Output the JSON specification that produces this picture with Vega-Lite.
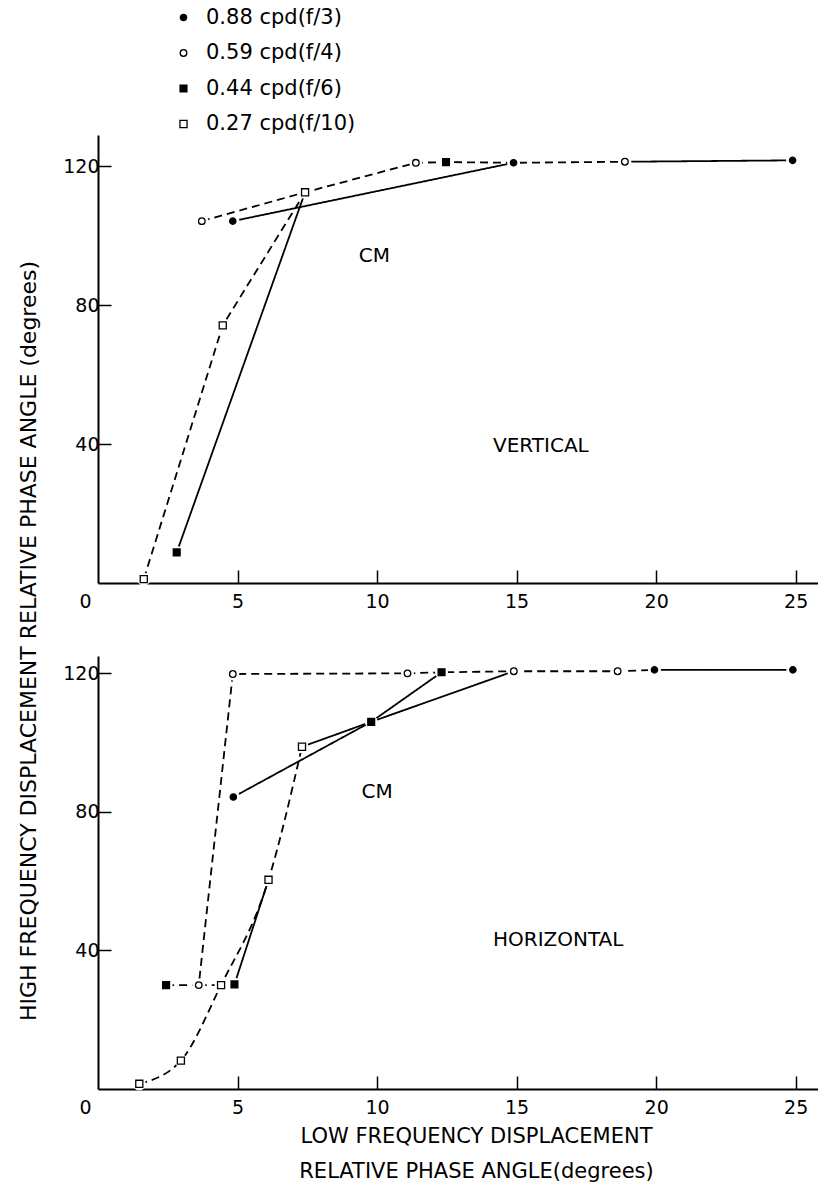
{
  "$schema": "https://vega.github.io/schema/vega-lite/v6.json",
  "padding": {"left": 17, "top": 7, "right": 0, "bottom": 5},
  "background": "white",
  "config": {
    "font": "DejaVu Sans",
    "view": {"stroke": null},
    "axis": {
      "domainColor": "black", "domainWidth": 2, "tickColor": "black", "tickWidth": 1.5,
      "tickSize": -13, "labelColor": "black", "labelFontSize": 19, "labelFont": "DejaVu Sans",
      "grid": false, "titleColor": "black", "titleFontWeight": "normal", "titleFont": "DejaVu Sans"
    },
    "axisX": {"labelPadding": 22, "labelFlush": false},
    "axisY": {"labelPadding": 12},
    "legend": {
      "orient": "none", "legendX": 75, "legendY": -128, "padding": 0,
      "labelFontSize": 21, "labelFont": "DejaVu Sans", "labelColor": "black",
      "symbolStrokeColor": "black", "symbolStrokeWidth": 1.3, "rowPadding": 13.5, "labelOffset": 12
    }
  },
  "title": {
    "text": "HIGH FREQUENCY DISPLACEMENT RELATIVE PHASE ANGLE (degrees)",
    "orient": "left", "anchor": "middle", "fontSize": 22, "fontWeight": "normal",
    "color": "black", "font": "DejaVu Sans", "offset": 22, "dx": -47
  },
  "datasets": {
    "vpts": [
      {"freq": "0.88 cpd(f/3)", "x": 4.83, "y": 104.2},
      {"freq": "0.88 cpd(f/3)", "x": 14.89, "y": 121.0},
      {"freq": "0.88 cpd(f/3)", "x": 24.89, "y": 121.7},
      {"freq": "0.59 cpd(f/4)", "x": 3.72, "y": 104.2},
      {"freq": "0.59 cpd(f/4)", "x": 11.39, "y": 121.0},
      {"freq": "0.59 cpd(f/4)", "x": 18.88, "y": 121.3},
      {"freq": "0.44 cpd(f/6)", "x": 2.82, "y": 8.8},
      {"freq": "0.44 cpd(f/6)", "x": 12.47, "y": 121.2},
      {"freq": "0.27 cpd(f/10)", "x": 1.64, "y": 1.1},
      {"freq": "0.27 cpd(f/10)", "x": 4.47, "y": 74.2},
      {"freq": "0.27 cpd(f/10)", "x": 7.42, "y": 112.5}
    ],
    "vlines": [
      {"seg": "d1", "style": "dashed", "curve": false, "ord": 1, "x": 1.64, "y": 1.1},
      {"seg": "d1", "style": "dashed", "curve": false, "ord": 2, "x": 4.47, "y": 74.2},
      {"seg": "d1", "style": "dashed", "curve": false, "ord": 3, "x": 7.42, "y": 112.5},
      {"seg": "d2", "style": "dashed", "curve": false, "ord": 1, "x": 3.72, "y": 104.2},
      {"seg": "d2", "style": "dashed", "curve": false, "ord": 2, "x": 7.42, "y": 112.5},
      {"seg": "d2", "style": "dashed", "curve": false, "ord": 3, "x": 11.39, "y": 121.0},
      {"seg": "d2", "style": "dashed", "curve": false, "ord": 4, "x": 12.47, "y": 121.2},
      {"seg": "d2", "style": "dashed", "curve": false, "ord": 5, "x": 14.89, "y": 121.0},
      {"seg": "d2", "style": "dashed", "curve": false, "ord": 6, "x": 18.88, "y": 121.3},
      {"seg": "s1", "style": "solid", "curve": false, "ord": 1, "x": 2.82, "y": 8.8},
      {"seg": "s1", "style": "solid", "curve": false, "ord": 2, "x": 7.42, "y": 112.5},
      {"seg": "s2", "style": "solid", "curve": false, "ord": 1, "x": 4.83, "y": 104.2},
      {"seg": "s2", "style": "solid", "curve": false, "ord": 2, "x": 14.89, "y": 121.0},
      {"seg": "s3", "style": "solid", "curve": false, "ord": 1, "x": 18.88, "y": 121.3},
      {"seg": "s3", "style": "solid", "curve": false, "ord": 2, "x": 24.89, "y": 121.7}
    ],
    "vtext": [
      {"x": 9.9, "y": 94.3, "label": "CM"},
      {"x": 15.87, "y": 39.5, "label": "VERTICAL"}
    ],
    "hpts": [
      {"freq": "0.88 cpd(f/3)", "x": 4.85, "y": 84.3},
      {"freq": "0.88 cpd(f/3)", "x": 19.94, "y": 121.0},
      {"freq": "0.88 cpd(f/3)", "x": 24.9, "y": 121.0},
      {"freq": "0.59 cpd(f/4)", "x": 3.61, "y": 30.0},
      {"freq": "0.59 cpd(f/4)", "x": 4.83, "y": 119.8},
      {"freq": "0.59 cpd(f/4)", "x": 11.09, "y": 120.0},
      {"freq": "0.59 cpd(f/4)", "x": 14.9, "y": 120.6},
      {"freq": "0.59 cpd(f/4)", "x": 18.62, "y": 120.6},
      {"freq": "0.44 cpd(f/6)", "x": 2.44, "y": 30.0},
      {"freq": "0.44 cpd(f/6)", "x": 4.89, "y": 30.2},
      {"freq": "0.44 cpd(f/6)", "x": 9.79, "y": 106.0},
      {"freq": "0.44 cpd(f/6)", "x": 12.31, "y": 120.3},
      {"freq": "0.27 cpd(f/10)", "x": 1.48, "y": 1.5},
      {"freq": "0.27 cpd(f/10)", "x": 2.97, "y": 8.2},
      {"freq": "0.27 cpd(f/10)", "x": 4.41, "y": 30.0},
      {"freq": "0.27 cpd(f/10)", "x": 6.11, "y": 60.4},
      {"freq": "0.27 cpd(f/10)", "x": 7.31, "y": 98.8}
    ],
    "hlines": [
      {"seg": "d1", "style": "dashed", "curve": false, "ord": 1, "x": 2.44, "y": 30.0},
      {"seg": "d1", "style": "dashed", "curve": false, "ord": 2, "x": 3.61, "y": 30.0},
      {"seg": "d1", "style": "dashed", "curve": false, "ord": 3, "x": 4.83, "y": 119.8},
      {"seg": "d1", "style": "dashed", "curve": false, "ord": 4, "x": 11.09, "y": 120.0},
      {"seg": "d1", "style": "dashed", "curve": false, "ord": 5, "x": 12.31, "y": 120.3},
      {"seg": "d1", "style": "dashed", "curve": false, "ord": 6, "x": 14.9, "y": 120.6},
      {"seg": "d1", "style": "dashed", "curve": false, "ord": 7, "x": 18.62, "y": 120.6},
      {"seg": "d1", "style": "dashed", "curve": false, "ord": 8, "x": 19.94, "y": 121.0},
      {"seg": "d2", "style": "dashed", "curve": true, "ord": 1, "x": 1.48, "y": 1.5},
      {"seg": "d2", "style": "dashed", "curve": true, "ord": 2, "x": 2.97, "y": 8.2},
      {"seg": "d2", "style": "dashed", "curve": true, "ord": 3, "x": 4.41, "y": 30.0},
      {"seg": "d2", "style": "dashed", "curve": true, "ord": 4, "x": 6.11, "y": 60.4},
      {"seg": "d2", "style": "dashed", "curve": true, "ord": 5, "x": 7.31, "y": 98.8},
      {"seg": "d3", "style": "dashed", "curve": false, "ord": 1, "x": 3.61, "y": 30.0},
      {"seg": "d3", "style": "dashed", "curve": false, "ord": 2, "x": 4.41, "y": 30.0},
      {"seg": "s1", "style": "solid", "curve": false, "ord": 1, "x": 4.89, "y": 30.2},
      {"seg": "s1", "style": "solid", "curve": false, "ord": 2, "x": 6.11, "y": 60.4},
      {"seg": "s2", "style": "solid", "curve": false, "ord": 1, "x": 4.85, "y": 84.3},
      {"seg": "s2", "style": "solid", "curve": false, "ord": 2, "x": 9.79, "y": 106.0},
      {"seg": "s2", "style": "solid", "curve": false, "ord": 3, "x": 14.9, "y": 120.6},
      {"seg": "s3", "style": "solid", "curve": false, "ord": 1, "x": 7.31, "y": 98.8},
      {"seg": "s3", "style": "solid", "curve": false, "ord": 2, "x": 9.79, "y": 106.0},
      {"seg": "s3", "style": "solid", "curve": false, "ord": 3, "x": 12.31, "y": 120.3},
      {"seg": "s4", "style": "solid", "curve": false, "ord": 1, "x": 19.94, "y": 121.0},
      {"seg": "s4", "style": "solid", "curve": false, "ord": 2, "x": 24.9, "y": 121.0}
    ],
    "htext": [
      {"x": 10.0, "y": 85.8, "label": "CM"},
      {"x": 16.49, "y": 42.9, "label": "HORIZONTAL"}
    ]
  },
  "spacing": 45,
  "vconcat": [
    {
      "width": 720,
      "height": 448,
      "encoding": {
        "x": {"field": "x", "type": "quantitative", "scale": {"domain": [0, 25.8], "nice": false, "zero": false},
          "axis": {"title": null, "values": [0, 5, 10, 15, 20, 25],
            "labelOffset": {"condition": {"test": "datum.value === 0", "value": -13}, "value": 0},
            "tickOpacity": {"condition": {"test": "datum.value === 0", "value": 0}, "value": 1}}},
        "y": {"field": "y", "type": "quantitative", "scale": {"domain": [0, 129], "nice": false, "zero": false},
          "axis": {"title": null, "values": [40, 80, 120]}}
      },
      "layer": [
        {
          "data": {"name": "vlines"},
          "transform": [{"filter": "!datum.curve"}],
          "mark": {"type": "line", "color": "black", "strokeWidth": 1.8},
          "encoding": {
            "detail": {"field": "seg"},
            "order": {"field": "ord", "type": "quantitative"},
            "strokeDash": {"field": "style", "type": "nominal", "scale": {"domain": ["solid", "dashed"], "range": [[1, 0], [8, 5]]}, "legend": null}
          }
        },
        {
          "data": {"name": "vpts"},
          "mark": {"type": "point", "filled": true, "color": "white", "size": 170, "opacity": 1}
        },
        {
          "data": {"name": "vpts"},
          "mark": {"type": "point", "strokeWidth": 1.3, "opacity": 1, "fillOpacity": 1},
          "encoding": {
            "shape": {"field": "freq", "type": "nominal", "scale": {"domain": ["0.88 cpd(f/3)", "0.59 cpd(f/4)", "0.44 cpd(f/6)", "0.27 cpd(f/10)"], "range": ["circle", "circle", "square", "square"]}, "legend": {"title": null}},
            "fill": {"field": "freq", "type": "nominal", "scale": {"domain": ["0.88 cpd(f/3)", "0.59 cpd(f/4)", "0.44 cpd(f/6)", "0.27 cpd(f/10)"], "range": ["black", "white", "black", "white"]}, "legend": {"title": null}},
            "stroke": {"field": "freq", "type": "nominal", "scale": {"domain": ["0.88 cpd(f/3)", "0.59 cpd(f/4)", "0.44 cpd(f/6)", "0.27 cpd(f/10)"], "range": ["black", "black", "black", "black"]}, "legend": {"title": null}},
            "size": {"field": "freq", "type": "nominal", "scale": {"domain": ["0.88 cpd(f/3)", "0.59 cpd(f/4)", "0.44 cpd(f/6)", "0.27 cpd(f/10)"], "range": [40, 50, 45, 95]}, "legend": {"title": null}}
          }
        },
        {
          "data": {"name": "vtext"},
          "mark": {"type": "text", "fontSize": 20, "font": "DejaVu Sans", "color": "black", "align": "center", "baseline": "middle"},
          "encoding": {"text": {"field": "label"}}
        }
      ]
    },
    {
      "width": 720,
      "height": 433,
      "encoding": {
        "x": {"field": "x", "type": "quantitative", "scale": {"domain": [0, 25.8], "nice": false, "zero": false},
          "axis": {"title": ["LOW FREQUENCY DISPLACEMENT", "RELATIVE PHASE ANGLE(degrees)"], "titleFontSize": 21, "titleLineHeight": 35, "titlePadding": 8, "titleX": 378,
            "values": [0, 5, 10, 15, 20, 25],
            "labelOffset": {"condition": {"test": "datum.value === 0", "value": -13}, "value": 0},
            "tickOpacity": {"condition": {"test": "datum.value === 0", "value": 0}, "value": 1}}},
        "y": {"field": "y", "type": "quantitative", "scale": {"domain": [0, 125], "nice": false, "zero": false},
          "axis": {"title": null, "values": [40, 80, 120]}}
      },
      "layer": [
        {
          "data": {"name": "hlines"},
          "transform": [{"filter": "!datum.curve"}],
          "mark": {"type": "line", "color": "black", "strokeWidth": 1.8},
          "encoding": {
            "detail": {"field": "seg"},
            "order": {"field": "ord", "type": "quantitative"},
            "strokeDash": {"field": "style", "type": "nominal", "scale": {"domain": ["solid", "dashed"], "range": [[1, 0], [8, 5]]}, "legend": null}
          }
        },
        {
          "data": {"name": "hlines"},
          "transform": [{"filter": "datum.curve"}],
          "mark": {"type": "line", "color": "black", "strokeWidth": 1.8, "interpolate": "monotone"},
          "encoding": {
            "detail": {"field": "seg"},
            "order": {"field": "ord", "type": "quantitative"},
            "strokeDash": {"field": "style", "type": "nominal", "scale": {"domain": ["solid", "dashed"], "range": [[1, 0], [8, 5]]}, "legend": null}
          }
        },
        {
          "data": {"name": "hpts"},
          "mark": {"type": "point", "filled": true, "color": "white", "size": 170, "opacity": 1}
        },
        {
          "data": {"name": "hpts"},
          "mark": {"type": "point", "strokeWidth": 1.3, "opacity": 1, "fillOpacity": 1},
          "encoding": {
            "shape": {"field": "freq", "type": "nominal", "scale": {"domain": ["0.88 cpd(f/3)", "0.59 cpd(f/4)", "0.44 cpd(f/6)", "0.27 cpd(f/10)"], "range": ["circle", "circle", "square", "square"]}, "legend": {"title": null}},
            "fill": {"field": "freq", "type": "nominal", "scale": {"domain": ["0.88 cpd(f/3)", "0.59 cpd(f/4)", "0.44 cpd(f/6)", "0.27 cpd(f/10)"], "range": ["black", "white", "black", "white"]}, "legend": {"title": null}},
            "stroke": {"field": "freq", "type": "nominal", "scale": {"domain": ["0.88 cpd(f/3)", "0.59 cpd(f/4)", "0.44 cpd(f/6)", "0.27 cpd(f/10)"], "range": ["black", "black", "black", "black"]}, "legend": {"title": null}},
            "size": {"field": "freq", "type": "nominal", "scale": {"domain": ["0.88 cpd(f/3)", "0.59 cpd(f/4)", "0.44 cpd(f/6)", "0.27 cpd(f/10)"], "range": [40, 50, 45, 95]}, "legend": {"title": null}}
          }
        },
        {
          "data": {"name": "htext"},
          "mark": {"type": "text", "fontSize": 20, "font": "DejaVu Sans", "color": "black", "align": "center", "baseline": "middle"},
          "encoding": {"text": {"field": "label"}}
        }
      ]
    }
  ]
}
